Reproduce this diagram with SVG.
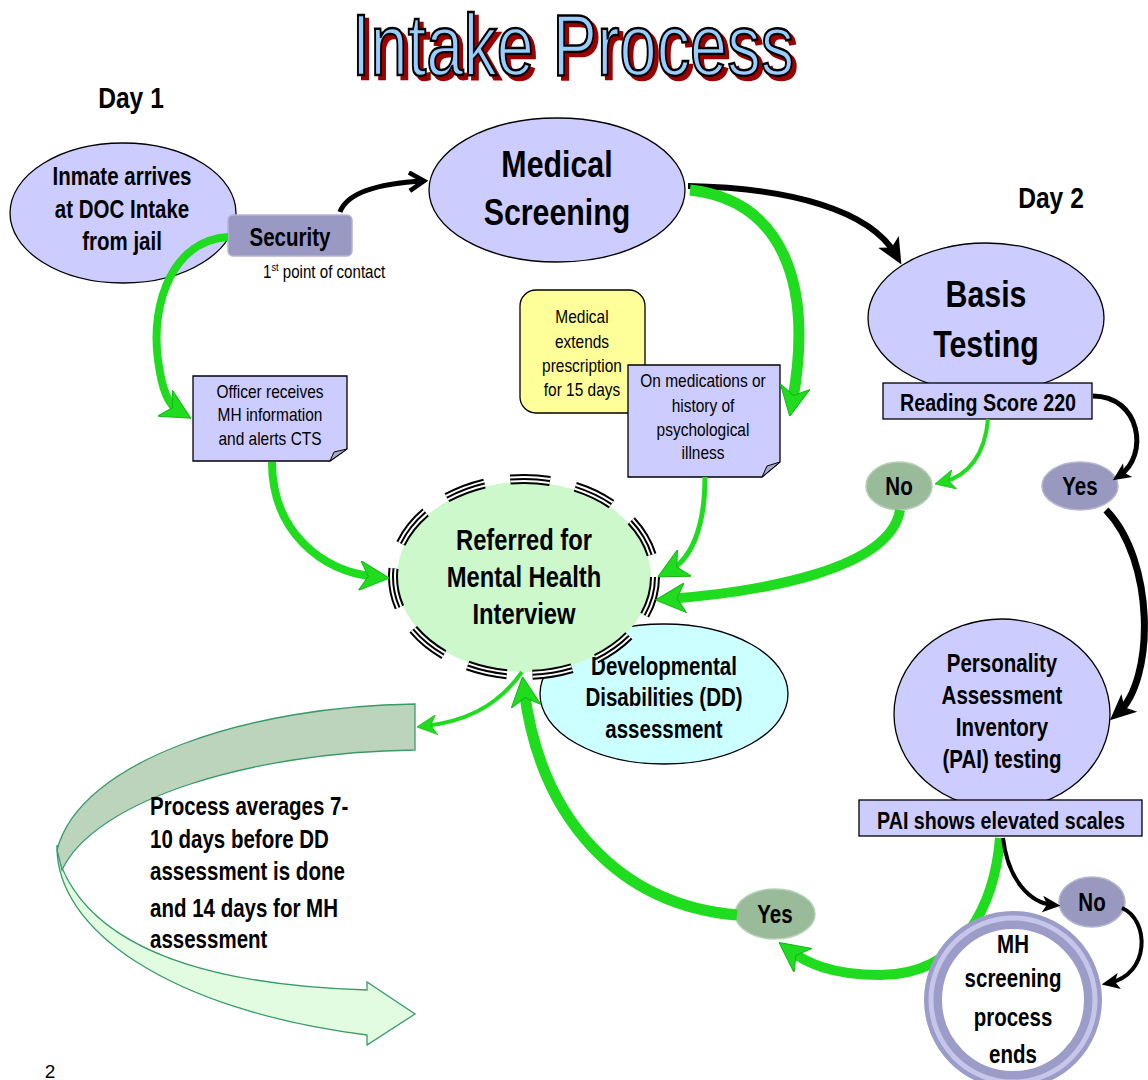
<svg xmlns="http://www.w3.org/2000/svg" width="1148" height="1080" viewBox="0 0 1148 1080">
<defs>
<style>
text{font-family:"Liberation Sans",Arial,sans-serif;text-anchor:middle;fill:#000}
.b{font-weight:bold}
.n{font-weight:normal}
.s{text-anchor:start}
.lav{fill:#ccccff;stroke:#000;stroke-width:1.3}
.g{fill:none;stroke:#1fdc1f;stroke-linecap:butt}
.k{fill:none;stroke:#000;stroke-linecap:butt}
</style>
<filter id="shadow" filterUnits="userSpaceOnUse" x="300" y="0" width="560" height="100">
<feOffset in="SourceAlpha" dx="4" dy="4" result="o"/>
<feFlood flood-color="#990000"/>
<feComposite in2="o" operator="in" result="sh"/>
<feMerge><feMergeNode in="sh"/><feMergeNode in="SourceGraphic"/></feMerge>
</filter>
<marker id="gh" markerUnits="userSpaceOnUse" markerWidth="30" markerHeight="30" refX="14" refY="12" viewBox="0 0 24 24" orient="auto">
<path d="M0,0 L24,12 L0,24 L7,12 Z" fill="#1fdc1f" stroke="#14b814" stroke-width="0.8"/>
</marker>
<marker id="ghs" markerUnits="userSpaceOnUse" markerWidth="20" markerHeight="20" refX="14" refY="12" viewBox="0 0 24 24" orient="auto">
<path d="M0,0 L24,12 L0,24 L7,12 Z" fill="#1fdc1f" stroke="#14b814" stroke-width="0.8"/>
</marker>
<marker id="kh" markerUnits="userSpaceOnUse" markerWidth="26" markerHeight="26" refX="14" refY="12" viewBox="0 0 24 24" orient="auto">
<path d="M0,1 L24,12 L0,23 L6,12 Z" fill="#000"/>
</marker>
<marker id="khs" markerUnits="userSpaceOnUse" markerWidth="18" markerHeight="18" refX="14" refY="12" viewBox="0 0 24 24" orient="auto">
<path d="M0,1 L24,12 L0,23 L6,12 Z" fill="#000"/>
</marker>
<marker id="kc" markerUnits="userSpaceOnUse" markerWidth="22" markerHeight="22" refX="20" refY="12" viewBox="0 0 24 24" orient="auto">
<path d="M4,2 L20,12 L4,22" fill="none" stroke="#000" stroke-width="5" stroke-linejoin="miter"/>
</marker>
</defs>
<rect width="1148" height="1080" fill="#fff"/>

<g id="title" filter="url(#shadow)">
<text transform="matrix(.76 0 0 1 573 0)" x="0" y="75" font-size="88" style="fill:#99ccff;stroke:#000;stroke-width:2.5">Intake Process</text>
</g>
<text class="b" transform="matrix(.82 0 0 1 131 0)" x="0" y="108" font-size="30">Day 1</text>
<text class="b" transform="matrix(.82 0 0 1 1051 0)" x="0" y="208" font-size="30">Day 2</text>

<g id="bigarrow">
<path d="M57,845 C55,930 170,1010 367,1035 L367,1045 L415,1014 L367,982 L367,990 C200,985 95,945 62,868 Z" fill="#e2fce2" stroke="#3a9a6a" stroke-width="1.3"/>
<path d="M415,704 C250,706 80,760 57,850 L62,870 C95,800 250,752 415,750 Z" fill="#bbd4bb" stroke="#3a9a6a" stroke-width="1.3"/>
<text class="b s" transform="matrix(.82 0 0 1 150 0)" font-size="25"><tspan x="0" y="815">Process averages 7-</tspan><tspan x="0" y="848">10 days before DD</tspan><tspan x="0" y="880">assessment is done</tspan><tspan x="0" y="917">and 14 days for MH</tspan><tspan x="0" y="948">assessment</tspan></text>
</g>

<g id="n-inmate">
<ellipse class="lav" cx="123" cy="213" rx="113" ry="70"/>
<text class="b" transform="matrix(.82 0 0 1 122 0)" font-size="25"><tspan x="0" y="185">Inmate arrives</tspan><tspan x="0" y="218">at DOC Intake</tspan><tspan x="0" y="250">from jail</tspan></text>
</g>
<g id="n-security">
<rect x="228" y="215" width="124" height="41" rx="5" fill="#9999c4" stroke="#b4b4d4" stroke-width="1.5"/>
<text class="b" transform="matrix(.82 0 0 1 290 0)" x="0" y="246" font-size="25">Security</text>
<text class="n s" transform="matrix(.84 0 0 1 263 0)" x="0" y="278" font-size="18">1<tspan font-size="11" dy="-7">st</tspan><tspan dy="7"> point of contact</tspan></text>
</g>
<g id="n-medical">
<ellipse class="lav" cx="557" cy="190" rx="128" ry="72"/>
<text class="b" transform="matrix(.82 0 0 1 557 0)" font-size="37"><tspan x="0" y="177">Medical</tspan><tspan x="0" y="225">Screening</tspan></text>
</g>
<g id="n-basis">
<ellipse class="lav" cx="986" cy="318" rx="118" ry="75"/>
<text class="b" transform="matrix(.82 0 0 1 986 0)" font-size="37"><tspan x="0" y="307">Basis</tspan><tspan x="0" y="357">Testing</tspan></text>
</g>
<g id="n-reading">
<rect x="883" y="383" width="209" height="36" fill="#ccccff" stroke="#000" stroke-width="1.3"/>
<text class="b" transform="matrix(.82 0 0 1 988 0)" x="0" y="411" font-size="24">Reading Score 220</text>
</g>
<g id="n-no1">
<ellipse cx="899" cy="486" rx="33" ry="24" fill="#99bb99" stroke="#b5d0b5" stroke-width="1.5"/>
<text class="b" transform="matrix(.82 0 0 1 899 0)" x="0" y="495" font-size="25">No</text>
</g>
<g id="n-yes1">
<ellipse cx="1080" cy="486" rx="38" ry="24" fill="#9999c0" stroke="#b4b4d4" stroke-width="1.5"/>
<text class="b" transform="matrix(.82 0 0 1 1080 0)" x="0" y="495" font-size="25">Yes</text>
</g>
<g id="n-extends">
<rect x="520" y="290" width="125" height="123" rx="16" fill="#ffff99" stroke="#000" stroke-width="1.3"/>
<text class="n" transform="matrix(.86 0 0 1 582 0)" font-size="18"><tspan x="0" y="323">Medical</tspan><tspan x="0" y="348">extends</tspan><tspan x="0" y="372">prescription</tspan><tspan x="0" y="396">for 15 days</tspan></text>
</g>
<g id="n-meds">
<path d="M628,365 H780 V462 L762,477 H628 Z" fill="#ccccff" stroke="#000" stroke-width="1.3"/>
<path d="M762,477 L767,466 L780,462 Z" fill="#a8a8cc" stroke="#000" stroke-width="1"/>
<text class="n" transform="matrix(.86 0 0 1 703 0)" font-size="18"><tspan x="0" y="387">On medications or</tspan><tspan x="0" y="412">history of</tspan><tspan x="0" y="436">psychological</tspan><tspan x="0" y="459">illness</tspan></text>
</g>
<g id="n-officer">
<path d="M193,376 H347 V449 L330,461 H193 Z" fill="#ccccff" stroke="#000" stroke-width="1.3"/>
<path d="M330,461 L334,452 L347,449 Z" fill="#a8a8cc" stroke="#000" stroke-width="1"/>
<text class="n" transform="matrix(.86 0 0 1 270 0)" font-size="18"><tspan x="0" y="398">Officer receives</tspan><tspan x="0" y="421">MH information</tspan><tspan x="0" y="445">and alerts CTS</tspan></text>
</g>
<g id="n-dd">
<ellipse cx="664" cy="694" rx="124" ry="70" fill="#ccffff" stroke="#000" stroke-width="1.3"/>
<text class="b" transform="matrix(.82 0 0 1 664 0)" font-size="25"><tspan x="0" y="675">Developmental</tspan><tspan x="0" y="706">Disabilities (DD)</tspan><tspan x="0" y="738">assessment</tspan></text>
</g>
<g id="n-referred">
<ellipse cx="524" cy="577" rx="127" ry="95" fill="#ccf8cc"/>
<ellipse cx="524" cy="577" rx="131" ry="98" fill="none" stroke="#000" stroke-width="10" stroke-dasharray="40 26"/>
<ellipse cx="524" cy="577" rx="131" ry="98" fill="none" stroke="#fff" stroke-width="6" stroke-dasharray="40 26"/>
<ellipse cx="524" cy="577" rx="131" ry="98" fill="none" stroke="#000" stroke-width="2" stroke-dasharray="40 26"/>
<text class="b" transform="matrix(.82 0 0 1 524 0)" font-size="29"><tspan x="0" y="550">Referred for</tspan><tspan x="0" y="587">Mental Health</tspan><tspan x="0" y="624">Interview</tspan></text>
</g>
<g id="n-pai">
<ellipse class="lav" cx="1002" cy="714" rx="108" ry="95"/>
<text class="b" transform="matrix(.82 0 0 1 1002 0)" font-size="25"><tspan x="0" y="672">Personality</tspan><tspan x="0" y="704">Assessment</tspan><tspan x="0" y="736">Inventory</tspan><tspan x="0" y="768">(PAI) testing</tspan></text>
</g>
<g id="n-elevated">
<rect x="859" y="800" width="283" height="36" fill="#ccccff" stroke="#000" stroke-width="1.3"/>
<text class="b" transform="matrix(.82 0 0 1 1001 0)" x="0" y="829" font-size="24">PAI shows elevated scales</text>
</g>
<g id="n-no2">
<ellipse cx="1092" cy="902" rx="33" ry="25" fill="#9999c0" stroke="#b4b4d4" stroke-width="1.5"/>
<text class="b" transform="matrix(.82 0 0 1 1092 0)" x="0" y="911" font-size="25">No</text>
</g>
<g id="n-yes2">
<ellipse cx="775" cy="914" rx="40" ry="25" fill="#99bb99" stroke="#b5d0b5" stroke-width="1.5"/>
<text class="b" transform="matrix(.82 0 0 1 775 0)" x="0" y="923" font-size="25">Yes</text>
</g>

<g id="connectors">
<path class="k" d="M340,212 C348,190 385,183 424,181" stroke-width="5" marker-end="url(#kc)"/>
<path class="k" d="M688,186 C790,188 870,210 896,255" stroke-width="6" marker-end="url(#kh)"/>
<path class="g" d="M690,190 C780,200 815,280 792,404" stroke-width="11" marker-end="url(#gh)"/>
<path class="g" d="M228,237 C175,240 150,300 158,360 C162,390 168,405 180,412" stroke-width="8" marker-end="url(#gh)"/>
<path class="g" d="M272,462 C272,530 320,572 377,577" stroke-width="8" marker-end="url(#gh)"/>
<path class="g" d="M705,477 C705,530 690,560 669,571" stroke-width="5" marker-end="url(#gh)"/>
<path class="g" d="M988,419 C985,455 968,476 943,482" stroke-width="4" marker-end="url(#ghs)"/>
<path class="g" d="M900,510 C890,570 760,592 668,599" stroke-width="10" marker-end="url(#gh)"/>
<path class="k" d="M1093,396 C1140,396 1150,455 1119,476" stroke-width="5" marker-end="url(#khs)"/>
<path class="k" d="M1106,510 C1155,560 1155,680 1118,713" stroke-width="7" marker-end="url(#kh)"/>
<path class="g" d="M522,672 C495,710 460,722 425,726" stroke-width="4" marker-end="url(#ghs)"/>
<path class="g" d="M737,915 C620,905 540,820 524,689" stroke-width="11" marker-end="url(#gh)"/>
<path class="g" d="M1000,838 C995,900 965,975 880,975 C830,975 805,962 789,950" stroke-width="10" marker-end="url(#gh)"/>
<path class="k" d="M1003,838 C1008,880 1030,903 1053,905" stroke-width="4" marker-end="url(#khs)"/>
<path class="k" d="M1122,908 C1150,920 1150,975 1109,983" stroke-width="4" marker-end="url(#khs)"/>
</g>

<g id="n-mhends">
<circle cx="1013" cy="1000" r="80" fill="#fff" stroke="#9c9cc8" stroke-width="18"/>
<circle cx="1013" cy="1000" r="82" fill="none" stroke="#c6c6ea" stroke-width="5"/>
<text class="b" transform="matrix(.82 0 0 1 1013 0)" font-size="25"><tspan x="0" y="953">MH</tspan><tspan x="0" y="987">screening</tspan><tspan x="0" y="1026">process</tspan><tspan x="0" y="1063">ends</tspan></text>
</g>
<text class="n" x="50" y="1078" font-size="19">2</text>
</svg>
